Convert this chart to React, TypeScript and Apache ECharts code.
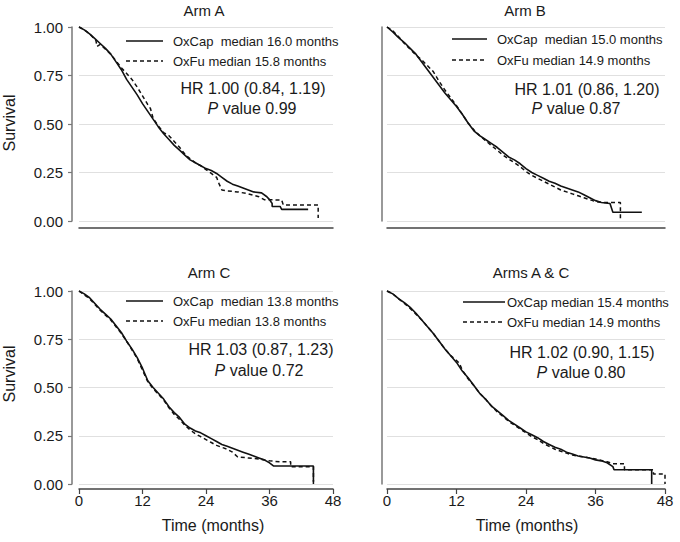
import React, { useEffect, useRef } from "react";
import * as echarts from "echarts";

// ---------- data ----------
const panelTitles = ["Arm A", "Arm B", "Arm C", "Arms A & C"];
const oxcapLegend = [
  "OxCap  median 16.0 months",
  "OxCap  median 15.0 months",
  "OxCap  median 13.8 months",
  "OxCap median 15.4 months",
];
const oxfuLegend = [
  "OxFu median 15.8 months",
  "OxFu median 14.9 months",
  "OxFu median 13.8 months",
  "OxFu median 14.9 months",
];
const hrTexts = ["HR 1.00 (0.84, 1.19)", "HR 1.01 (0.86, 1.20)", "HR 1.03 (0.87, 1.23)", "HR 1.02 (0.90, 1.15)"];
const pValues = ["0.99", "0.87", "0.72", "0.80"];
const xTickStep = 12;
const xMax = 48;
const yTickStep = 0.25;

const armA_OxCap: [number, number][] = [
  [0, 1], [1, 0.985], [2, 0.965], [3, 0.94], [4, 0.915], [5, 0.89], [6, 0.86], [7, 0.82], [8, 0.78],
  [9, 0.73], [10, 0.69], [11, 0.65], [12, 0.605], [13, 0.565], [14, 0.525], [15, 0.485], [16, 0.45],
  [17, 0.42], [18, 0.39], [19, 0.365], [20, 0.34], [21, 0.315], [22, 0.3], [23, 0.285], [24, 0.27],
  [25, 0.26], [26, 0.245], [27, 0.225], [28, 0.205], [29, 0.19], [30, 0.18], [31, 0.17], [32, 0.16],
  [33, 0.15], [34.5, 0.145], [35.5, 0.125], [36, 0.11], [36.5, 0.09], [36.5, 0.075], [38, 0.075],
  [38.3, 0.06], [43.3, 0.06],
];
const armA_OxFu: [number, number][] = [
  [0, 1], [1, 0.985], [2, 0.965], [3.2, 0.93], [3.4, 0.9], [4, 0.91], [5, 0.885], [6, 0.86], [7, 0.825],
  [8, 0.79], [9, 0.76], [10, 0.73], [11, 0.69], [12, 0.645], [13, 0.6], [13.5, 0.58], [14, 0.53],
  [15, 0.49], [16, 0.455], [17, 0.44], [18, 0.41], [19, 0.38], [20, 0.345], [21, 0.32], [22, 0.3],
  [23, 0.285], [24, 0.265], [25, 0.245], [26, 0.225], [26.5, 0.19], [27, 0.16], [28, 0.155], [30, 0.15],
  [32, 0.14], [34, 0.125], [35, 0.11], [38.3, 0.108], [38.6, 0.083], [45.2, 0.083], [45.2, 0.015],
];
const armB_OxCap: [number, number][] = [
  [0, 1], [1, 0.975], [2, 0.945], [3, 0.92], [4, 0.89], [5, 0.86], [6, 0.82], [7, 0.78], [8, 0.74],
  [9, 0.7], [10, 0.66], [11, 0.625], [12, 0.59], [13, 0.55], [14, 0.505], [15, 0.465], [16, 0.44],
  [17, 0.42], [18, 0.4], [19, 0.38], [20, 0.355], [21, 0.33], [22, 0.315], [23, 0.295], [24, 0.27],
  [25, 0.25], [26, 0.235], [27, 0.22], [28, 0.205], [29, 0.195], [30, 0.18], [31, 0.17], [32, 0.16],
  [33, 0.15], [34, 0.135], [35, 0.12], [36, 0.105], [37, 0.095], [38.5, 0.09], [39, 0.045], [44, 0.045],
];
const armB_OxFu: [number, number][] = [
  [0, 1], [1, 0.98], [2, 0.95], [3, 0.915], [4, 0.885], [5, 0.855], [6, 0.83], [7, 0.8], [8, 0.77],
  [9, 0.72], [10, 0.675], [11, 0.635], [12, 0.595], [13, 0.55], [14, 0.505], [15, 0.47], [16, 0.44],
  [17, 0.415], [18, 0.39], [19, 0.365], [20, 0.34], [21, 0.32], [22, 0.3], [23, 0.28], [24, 0.255],
  [25, 0.235], [26, 0.22], [27, 0.205], [28, 0.19], [29, 0.175], [30, 0.16], [31, 0.15], [32, 0.14],
  [33, 0.13], [34, 0.12], [35, 0.11], [36, 0.1], [37.5, 0.095], [40.3, 0.095], [40.3, 0],
];
const armC_OxCap: [number, number][] = [
  [0, 1], [1, 0.985], [2, 0.965], [3, 0.935], [4, 0.905], [5, 0.88], [6, 0.855], [7, 0.82], [8, 0.785],
  [9, 0.74], [10, 0.7], [11, 0.655], [12, 0.6], [13, 0.535], [14, 0.5], [15, 0.47], [16, 0.44],
  [17, 0.4], [18, 0.37], [19, 0.345], [20, 0.31], [21, 0.29], [22, 0.275], [23, 0.265], [24, 0.25],
  [25, 0.235], [26, 0.22], [27, 0.205], [28, 0.195], [29, 0.185], [30, 0.175], [31, 0.165], [32, 0.155],
  [33, 0.145], [34, 0.135], [35, 0.125], [36, 0.11], [36.8, 0.093], [44.3, 0.093], [44.3, 0.012],
];
const armC_OxFu: [number, number][] = [
  [0, 1], [1, 0.98], [2, 0.96], [3, 0.93], [4, 0.9], [5, 0.875], [6, 0.85], [7, 0.815], [8, 0.78],
  [9, 0.74], [10, 0.695], [11, 0.65], [12, 0.59], [13, 0.53], [14, 0.495], [15, 0.465], [16, 0.435],
  [17, 0.395], [18, 0.36], [19, 0.335], [20, 0.305], [21, 0.28], [22, 0.26], [23, 0.245], [24, 0.23],
  [25, 0.215], [26, 0.2], [27, 0.19], [28, 0.18], [29, 0.165], [30, 0.14], [32, 0.135], [34, 0.13],
  [36, 0.12], [38, 0.115], [40, 0.115], [40, 0.09], [44.3, 0.09], [44.3, 0],
];
const armAC_OxCap: [number, number][] = [
  [0, 1], [1, 0.985], [2, 0.96], [3, 0.94], [4, 0.915], [5, 0.885], [6, 0.85], [7, 0.815], [8, 0.78],
  [9, 0.74], [10, 0.7], [11, 0.665], [12, 0.63], [13, 0.585], [14, 0.55], [15, 0.51], [16, 0.47],
  [17, 0.44], [18, 0.405], [19, 0.38], [20, 0.355], [21, 0.33], [22, 0.31], [23, 0.29], [24, 0.27],
  [25, 0.255], [26, 0.24], [27, 0.22], [28, 0.205], [29, 0.19], [30, 0.18], [31, 0.165], [32, 0.155],
  [33, 0.145], [34, 0.14], [35, 0.135], [36, 0.125], [37, 0.12], [38, 0.11], [39, 0.09], [39.2, 0.074],
  [45.7, 0.074], [45.7, 0],
];
const armAC_OxFu: [number, number][] = [
  [0, 1], [1, 0.985], [2, 0.96], [3, 0.935], [4, 0.91], [5, 0.88], [6, 0.85], [7, 0.815], [8, 0.78],
  [9, 0.74], [10, 0.7], [11, 0.665], [12, 0.64], [12.5, 0.625], [13, 0.59], [14, 0.545], [15, 0.51],
  [16, 0.47], [17, 0.44], [18, 0.405], [19, 0.375], [20, 0.35], [21, 0.325], [22, 0.305], [23, 0.285],
  [24, 0.265], [25, 0.245], [26, 0.23], [27, 0.21], [28, 0.195], [29, 0.18], [30, 0.17], [31, 0.16],
  [32, 0.15], [33, 0.145], [34, 0.14], [36, 0.13], [38, 0.115], [39, 0.105], [41, 0.105], [41, 0.074],
  [46, 0.074], [46, 0.052], [48, 0.052], [48, 0],
];

const oxcapSeries = [armA_OxCap, armB_OxCap, armC_OxCap, armAC_OxCap];
const oxfuSeries = [armA_OxFu, armB_OxFu, armC_OxFu, armAC_OxFu];

// ---------- layout ----------
const FONT = '"Liberation Sans", Arial, Helvetica, sans-serif';
const TEXT = "#1a1a1a";
// grid = data area (0..48 months, 0..1 survival); axis lines are offset outwards like the reference
const grids = [
  { left: 79, top: 27, width: 254, height: 194, xOff: 7, yOff: 7 },
  { left: 387, top: 27, width: 278, height: 194, xOff: 7, yOff: 5 },
  { left: 79, top: 291, width: 254, height: 193, xOff: 5, yOff: 7 },
  { left: 387, top: 291, width: 278, height: 193, xOff: 5, yOff: 5 },
];
const annot = [
  { lx1: 126, lx2: 163, tx: 173, y1: 41, y2: 61, hrx: 253, hry: 88, px: 252, py: 108, titleX: 204, titleY: 10 },
  { lx1: 452, lx2: 487, tx: 497, y1: 39, y2: 60, hrx: 587, hry: 89, px: 576, py: 108, titleX: 525, titleY: 10 },
  { lx1: 126, lx2: 163, tx: 173, y1: 301, y2: 321, hrx: 261, hry: 349, px: 259, py: 370, titleX: 209, titleY: 272 },
  { lx1: 463, lx2: 505, tx: 507, y1: 302, y2: 322, hrx: 582, hry: 352, px: 581, py: 372, titleX: 531, titleY: 272 },
];

function txt(text: string, x: number, y: number, size: number, align = "center", extra: any = {}) {
  return {
    type: "text",
    x,
    y,
    silent: true,
    style: {
      text,
      fill: TEXT,
      fontSize: size,
      fontFamily: FONT,
      align,
      textAlign: align,
      verticalAlign: "middle",
      textVerticalAlign: "middle",
      ...extra,
    },
  };
}

export default function App() {
  const ref = useRef<HTMLDivElement>(null);
  useEffect(() => {
    if (!ref.current) return;
    const chart = echarts.init(ref.current, null, { renderer: "svg" });

    const xAxis = grids.map((g, i) => ({
      type: "value",
      gridIndex: i,
      min: 0,
      max: xMax,
      interval: xTickStep,
      offset: g.xOff,
      axisLine: { show: true, onZero: false, lineStyle: { color: "#444", width: 1.5 } },
      axisTick: { show: i >= 2, length: 5, lineStyle: { color: "#444", width: 1.2 } },
      axisLabel: {
        show: i >= 2,
        fontSize: 15,
        fontFamily: FONT,
        color: TEXT,
        margin: 4,
      },
      splitLine: { show: false },
    }));
    const yAxis = grids.map((g, i) => ({
      type: "value",
      gridIndex: i,
      min: 0,
      max: 1,
      interval: yTickStep,
      offset: g.yOff,
      axisLine: { show: true, onZero: false, lineStyle: { color: "#777", width: 1.5 } },
      axisTick: { show: i % 2 === 0, length: 4, lineStyle: { color: "#777", width: 1.2 } },
      axisLabel: {
        show: i % 2 === 0,
        formatter: (v: number) => v.toFixed(2),
        fontSize: 15,
        fontFamily: FONT,
        color: TEXT,
        margin: 9,
      },
      splitLine: { show: true, lineStyle: { color: "#e0e0e0", width: 1 } },
    }));

    const series: any[] = [];
    grids.forEach((_, i) => {
      series.push({
        type: "line",
        name: oxcapLegend[i],
        xAxisIndex: i,
        yAxisIndex: i,
        data: oxcapSeries[i],
        symbol: "none",
        clip: false,
        lineStyle: { color: "#111", width: 1.6 },
        z: 3,
      });
      series.push({
        type: "line",
        name: oxfuLegend[i],
        xAxisIndex: i,
        yAxisIndex: i,
        data: oxfuSeries[i],
        symbol: "none",
        clip: false,
        lineStyle: { color: "#111", width: 1.5, type: [4, 3] },
        z: 2,
      });
    });

    const graphic: any[] = [];
    annot.forEach((a, i) => {
      graphic.push(txt(panelTitles[i], a.titleX, a.titleY, 15));
      graphic.push({
        type: "line",
        silent: true,
        shape: { x1: a.lx1, y1: a.y1, x2: a.lx2, y2: a.y1 },
        style: { stroke: "#111", lineWidth: 1.6 },
      });
      graphic.push({
        type: "line",
        silent: true,
        shape: { x1: a.lx1, y1: a.y2, x2: a.lx2, y2: a.y2 },
        style: { stroke: "#111", lineWidth: 1.5, lineDash: [4, 3] },
      });
      graphic.push(txt(oxcapLegend[i], a.tx, a.y1, 13, "left"));
      graphic.push(txt(oxfuLegend[i], a.tx, a.y2, 13, "left"));
      graphic.push(txt(hrTexts[i], a.hrx, a.hry, 16));
      graphic.push(
        txt("{i|P} value " + pValues[i], a.px, a.py, 16, "center", {
          rich: { i: { fontStyle: "italic", fontSize: 16, fontFamily: FONT, fill: TEXT } },
        })
      );
    });
    // axis titles
    graphic.push({ ...txt("Survival", 9, 123, 16), rotation: Math.PI / 2 });
    graphic.push({ ...txt("Survival", 9, 374, 16), rotation: Math.PI / 2 });
    graphic.push(txt("Time (months)", 213, 525, 16));
    graphic.push(txt("Time (months)", 527, 525, 16));

    chart.setOption({
      animation: false,
      textStyle: { fontFamily: FONT },
      grid: grids.map((g) => ({ left: g.left, top: g.top, width: g.width, height: g.height })),
      xAxis,
      yAxis,
      series,
      graphic,
    });
    return () => chart.dispose();
  }, []);
  return <div ref={ref} style={{ width: 680, height: 542, position: "absolute", left: 0, top: 0 }} />;
}
